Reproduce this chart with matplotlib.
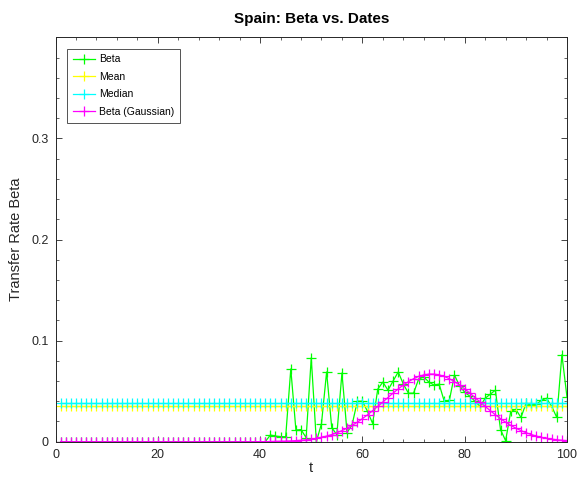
import matplotlib
matplotlib.use("Agg")
import matplotlib.pyplot as plt
from matplotlib.ticker import AutoMinorLocator
import numpy as np

plt.rcParams['font.family'] = ['Liberation Sans', 'DejaVu Sans']

t = list(range(1, 101))
beta = [0.0] * 41 + [
    0.0066, 0.0056, 0.005, 0.005, 0.072, 0.0115, 0.012, 0.004, 0.083,
    0.000, 0.018, 0.069, 0.014, 0.007, 0.068, 0.009, 0.017, 0.040,
    0.040, 0.030, 0.018, 0.052, 0.059, 0.051, 0.060, 0.069, 0.057,
    0.048, 0.048, 0.062, 0.064, 0.059, 0.056, 0.057, 0.040, 0.041,
    0.066, 0.055, 0.049, 0.045, 0.040, 0.035, 0.043, 0.047, 0.051,
    0.012, 0.001, 0.030, 0.032, 0.024, 0.038, 0.036, 0.037, 0.041,
    0.043, 0.035, 0.024, 0.086, 0.044]
mean_val = 0.0350
median_val = 0.0385
gauss = [0.0] * 39 + [0.0001, 0.0001, 0.0002, 0.0003, 0.00039,
    0.00055, 0.00077, 0.00106, 0.00144, 0.00193, 0.00257, 0.00336,
    0.00436, 0.0056, 0.0071, 0.0089, 0.0110, 0.0134, 0.0162, 0.0193,
    0.0228, 0.0266, 0.0307, 0.0349, 0.0393, 0.0437, 0.0481, 0.0522,
    0.0560, 0.0594, 0.0623, 0.0646, 0.0661, 0.0669, 0.0669, 0.0661,
    0.0646, 0.0623, 0.0594, 0.0560, 0.0522, 0.0481, 0.0437, 0.0393,
    0.0349, 0.0307, 0.0266, 0.0228, 0.0193, 0.0162, 0.0134, 0.0110,
    0.0089, 0.0071, 0.0056, 0.00436, 0.00336, 0.00257, 0.00193,
    0.00144, 0.00106]

fig = plt.figure(figsize=(5.8, 4.78), dpi=100)
ax = fig.add_axes([0.0957, 0.0759, 0.8819, 0.8461])

kw = dict(marker='+', markersize=7, linewidth=0.9, markeredgewidth=0.9)
ax.plot(t, beta, color='#00ff00', label='Beta', **kw)
ax.plot(t, [mean_val] * len(t), color='#ffff00', label='Mean', **kw)
ax.plot(t, [median_val] * len(t), color='#00ffff', label='Median', **kw)
ax.plot(t, gauss, color='#ff00ff', label='Beta (Gaussian)', **kw)

ax.set_xlim(0, 100)
ax.set_ylim(0, 0.4)
ax.set_xticks([0, 20, 40, 60, 80, 100])
ax.set_yticks([0, 0.1, 0.2, 0.3])
ax.set_yticklabels(['0', '0.1', '0.2', '0.3'])
ax.xaxis.set_minor_locator(AutoMinorLocator(5))
ax.yaxis.set_minor_locator(AutoMinorLocator(5))
ax.tick_params(which='both', direction='in', top=True, right=True,
               labelsize=9, colors='#262626', labelcolor='#262626', pad=5)
ax.tick_params(which='major', length=4, width=0.6)
ax.tick_params(which='minor', length=2, width=0.5)
for s in ax.spines.values():
    s.set_linewidth(0.7)
    s.set_color('#262626')

ax.set_title('Spain: Beta vs. Dates', fontsize=11, fontweight='bold', pad=10)
ax.set_xlabel('t', fontsize=10.5, labelpad=0, color='#262626')
ax.set_ylabel('Transfer Rate Beta', fontsize=10.5, labelpad=6, color='#262626')

leg = ax.legend(loc='upper left', fontsize=7.5, frameon=True, fancybox=False,
                edgecolor='#262626', handlelength=2.1, borderaxespad=1.1,
                labelspacing=0.72, handletextpad=0.4, borderpad=0.55)
leg.get_frame().set_linewidth(0.7)

fig.savefig('out.png', dpi=100)
